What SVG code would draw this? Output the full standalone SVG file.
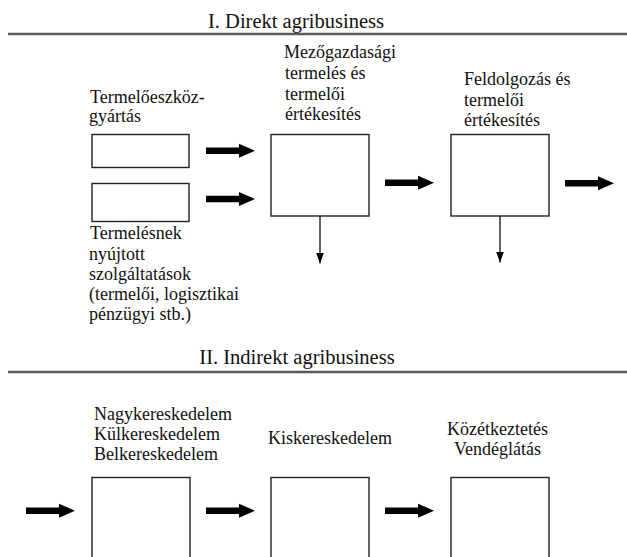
<svg xmlns="http://www.w3.org/2000/svg" xmlns:xlink="http://www.w3.org/1999/xlink" width="627" height="557" viewBox="0 0 627 557">
<style>
  text { font-family: 'Liberation Serif', 'Times New Roman', Times, serif; }
  .t { font-size: 18px; fill: #111; }
  .title { font-size: 20.5px; fill: #111; text-anchor: middle; }
  .rule { stroke: #5a5a5a; stroke-width: 2.6; fill: none; }
  .box { fill: #fff; stroke: #222; stroke-width: 1.4; }
  .thin { stroke: #111; stroke-width: 1.3; fill: none; }
  .big { fill: #000; }
  .mid { text-anchor: middle; }
</style>
<defs>
  <path id="bigArrow" d="M0,-3.2 H33 V-7 L49,0 L33,7 V3.2 H0 Z"/>
  <marker id="tri" markerWidth="11" markerHeight="8" refX="11" refY="4" orient="auto" markerUnits="userSpaceOnUse" viewBox="0 0 11 8">
    <path d="M0,0 L11,4 L0,8 Z" fill="#000"/>
  </marker>
</defs>
<rect width="627" height="557" fill="#fff"/>

<g id="section-1-header" font-family="Liberation Serif, serif">
  <text class="title" x="296" y="27.5">I. Direkt agribusiness</text>
  <line class="rule" x1="8" y1="34" x2="627" y2="34"/>
</g>

<g id="node-termeloeszkoz" font-family="Liberation Serif, serif">
  <text class="t" x="90" y="102.5">Termelőeszköz-</text>
  <text class="t" x="89" y="122">gyártás</text>
  <rect class="box" x="92" y="134.5" width="97" height="33"/>
</g>

<g id="node-szolgaltatasok" font-family="Liberation Serif, serif">
  <rect class="box" x="92" y="183.5" width="97" height="38"/>
  <text class="t" x="90" y="239">Termelésnek</text>
  <text class="t" x="89" y="259.5">nyújtott</text>
  <text class="t" x="89" y="280">szolgáltatások</text>
  <text class="t" x="89" y="300">(termelői, logisztikai</text>
  <text class="t" x="89" y="320">pénzügyi stb.)</text>
</g>

<g id="node-mezogazdasagi" font-family="Liberation Serif, serif">
  <text class="t" x="284" y="57.5">Mezőgazdasági</text>
  <text class="t" x="285" y="78.5">termelés és</text>
  <text class="t" x="285" y="99.5">termelői</text>
  <text class="t" x="285" y="120">értékesítés</text>
  <rect class="box" x="271" y="134.5" width="98" height="81.5"/>
</g>

<g id="node-feldolgozas" font-family="Liberation Serif, serif">
  <text class="t" x="464" y="85">Feldolgozás és</text>
  <text class="t" x="464" y="106">termelői</text>
  <text class="t" x="464" y="126">értékesítés</text>
  <rect class="box" x="451" y="134.5" width="98" height="81.5"/>
</g>

<g id="section-2-header" font-family="Liberation Serif, serif">
  <text class="title" x="297" y="363.5">II. Indirekt agribusiness</text>
  <line class="rule" x1="8" y1="372" x2="627" y2="372"/>
</g>

<g id="node-nagykereskedelem" font-family="Liberation Serif, serif">
  <text class="t" x="94" y="419.5">Nagykereskedelem</text>
  <text class="t" x="94" y="439.5">Külkereskedelem</text>
  <text class="t" x="94" y="459.5">Belkereskedelem</text>
  <rect class="box" x="92" y="477.5" width="98" height="100"/>
</g>

<g id="node-kiskereskedelem" font-family="Liberation Serif, serif">
  <text class="t" x="268" y="443.5">Kiskereskedelem</text>
  <rect class="box" x="271" y="477.5" width="98" height="100"/>
</g>

<g id="node-kozetkeztetes" font-family="Liberation Serif, serif">
  <text class="t mid" x="497.5" y="435">Közétkeztetés</text>
  <text class="t mid" x="497.5" y="455">Vendéglátás</text>
  <rect class="box" x="451" y="477.5" width="98" height="100"/>
</g>

<g id="connectors">
  <use xlink:href="#bigArrow" class="big" x="206" y="150.7"/>
  <use xlink:href="#bigArrow" class="big" x="206" y="199"/>
  <use xlink:href="#bigArrow" class="big" x="385" y="182.7"/>
  <use xlink:href="#bigArrow" class="big" x="565" y="183.3"/>
  <line class="thin" x1="320" y1="216" x2="320" y2="263.5" marker-end="url(#tri)"/>
  <line class="thin" x1="500" y1="216" x2="500" y2="262.5" marker-end="url(#tri)"/>
  <use xlink:href="#bigArrow" class="big" x="26" y="510.7"/>
  <use xlink:href="#bigArrow" class="big" x="206" y="510.7"/>
  <use xlink:href="#bigArrow" class="big" x="385" y="510.7"/>
</g>
</svg>
